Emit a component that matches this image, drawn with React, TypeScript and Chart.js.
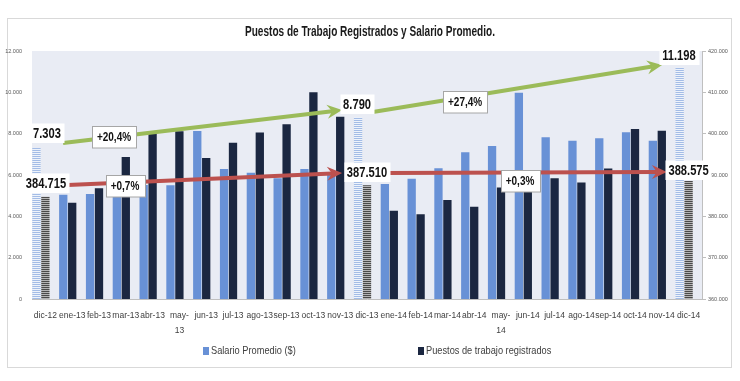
import React, { useEffect, useRef } from 'react';
import { Chart, registerables } from 'chart.js';

Chart.register(...registerables);

// ---------------- data ----------------
const TITLE = 'Puestos de Trabajo Registrados y Salario Promedio.';
const CATEGORIES: (string | string[])[] = [
  'dic-12', 'ene-13', 'feb-13', 'mar-13', 'abr-13', ['may-', '13'], 'jun-13', 'jul-13', 'ago-13', 'sep-13', 'oct-13', 'nov-13',
  'dic-13', 'ene-14', 'feb-14', 'mar-14', 'abr-14', ['may-', '14'], 'jun-14', 'jul-14', 'ago-14', 'sep-14', 'oct-14', 'nov-14',
  'dic-14',
];
const SALARIO_LABEL = 'Salario Promedio ($)';
const PUESTOS_LABEL = 'Puestos de trabajo registrados';
const SALARIO = [7303, 5050, 5080, 5250, 5520, 5500, 8130, 6290, 6110, 5840, 6290, 6000, 8790, 5565, 5820, 6325, 7100, 7400, 9980, 7825, 7660, 7776, 8067, 7660, 11198];
const PUESTOS = [384715, 383300, 386800, 394350, 400470, 400600, 394100, 397800, 400300, 402300, 410000, 404100, 387510, 381360, 380500, 383950, 382330, 387000, 386800, 389200, 388200, 391600, 401100, 400700, 388575];
const DECEMBER_INDEXES = [0, 12, 24];
const LEFT_AXIS = { min: 0, max: 12000, step: 2000 };
const RIGHT_AXIS = { min: 360000, max: 420000, step: 10000 };

// annotation texts
const VALUE_LABELS = ['7.303', '384.715', '8.790', '387.510', '11.198', '388.575'];
const CHANGE_LABELS = ['+20,4%', '+0,7%', '+27,4%', '+0,3%'];

// ---------------- placement (category index, left-axis value) ----------------
const VALUE_LABEL_POS: [number, number][] = [
  [0.06, 8030], [0.02, 5610], [11.63, 9435], [12.0, 6150], [23.64, 11800], [24.0, 6240],
];
const CHANGE_LABEL_POS: [number, number][] = [
  [2.56, 7840], [2.97, 5470], [15.66, 9530], [17.71, 5710],
];
const ARROWS: { kind: 'green' | 'red'; from: [number, number]; to: [number, number] }[] = [
  { kind: 'green', from: [0.66, 7548], to: [11.07, 9145] },
  { kind: 'green', from: [12.22, 9048], to: [23.01, 11323] },
  { kind: 'red', from: [0.84, 5516], to: [11.07, 6097] },
  { kind: 'red', from: [12.78, 6097], to: [23.19, 6145] },
];

// ---------------- styles ----------------
const FONT = "'Liberation Sans', Arial, sans-serif";
const VALUE_CONDENSE = 0.72;
const CHANGE_CONDENSE = 0.8;
const COLORS = {
  salario: '#6891D6',
  puestos: '#1B2741',
  plotBg: '#E9ECF4',
  frame: '#D9D9D9',
  green: '#9BBB59',
  red: '#BC514E',
  text: '#404040',
  axisText: '#595959',
};

const fmt = (v: number) => String(Math.round(v)).replace(/\B(?=(\d{3})+(?!\d))/g, '.');

function makeStripes(base: string, line: string): CanvasPattern | string {
  const c = document.createElement('canvas');
  c.width = 4;
  c.height = 2;
  const g = c.getContext('2d');
  if (!g) return base;
  g.fillStyle = base;
  g.fillRect(0, 0, 4, 2);
  g.fillStyle = line;
  g.fillRect(0, 1, 4, 1);
  return g.createPattern(c, 'repeat') || base;
}

function condensedText(ctx: CanvasRenderingContext2D, text: string, x: number, y: number, sx: number, align: CanvasTextAlign) {
  ctx.save();
  ctx.translate(x, y);
  ctx.scale(sx, 1);
  ctx.textAlign = align;
  ctx.fillText(text, 0, 0);
  ctx.restore();
}

function drawArrow(ctx: CanvasRenderingContext2D, x1: number, y1: number, x2: number, y2: number, color: string) {
  const ang = Math.atan2(y2 - y1, x2 - x1);
  const head = 13;
  const hw = 7;
  const cos = Math.cos(ang);
  const sin = Math.sin(ang);
  const bx = x2 - head * cos;
  const by = y2 - head * sin;
  ctx.strokeStyle = color;
  ctx.lineWidth = 4;
  ctx.lineCap = 'butt';
  ctx.beginPath();
  ctx.moveTo(x1, y1);
  ctx.lineTo(bx + 3 * cos, by + 3 * sin);
  ctx.stroke();
  ctx.fillStyle = color;
  ctx.beginPath();
  ctx.moveTo(x2, y2);
  ctx.lineTo(bx - 2 * cos + hw * sin, by - 2 * sin - hw * cos);
  ctx.lineTo(bx + 3 * cos, by + 3 * sin);
  ctx.lineTo(bx - 2 * cos - hw * sin, by - 2 * sin + hw * cos);
  ctx.closePath();
  ctx.fill();
}

function drawLabel(ctx: CanvasRenderingContext2D, text: string, x: number, y: number, size: number, bordered: boolean, sx: number) {
  ctx.font = `bold ${size}px ${FONT}`;
  const w = ctx.measureText(text).width * sx;
  const padX = bordered ? 5 : 3;
  const h = size + (bordered ? 9 : 4);
  const bx = Math.round(x - w / 2 - padX) + 0.5;
  const by = Math.round(y - h / 2) + 0.5;
  const bw = Math.round(w + padX * 2);
  ctx.fillStyle = '#FFFFFF';
  ctx.fillRect(bx, by, bw, h);
  if (bordered) {
    ctx.strokeStyle = '#A6A6A6';
    ctx.lineWidth = 1;
    ctx.strokeRect(bx, by, bw, h);
  }
  ctx.fillStyle = '#111111';
  ctx.textBaseline = 'middle';
  condensedText(ctx, text, x, y + 1, sx, 'center');
}

const decorPlugin = {
  id: 'decor',
  beforeDraw(chart: any) {
    const { ctx, chartArea: a, width, height } = chart;
    ctx.save();
    ctx.fillStyle = '#FFFFFF';
    ctx.fillRect(0, 0, width, height);
    ctx.strokeStyle = COLORS.frame;
    ctx.lineWidth = 1;
    ctx.strokeRect(7.5, 18.5, 724, 349);
    ctx.fillStyle = COLORS.plotBg;
    ctx.fillRect(a.left, a.top, a.right - a.left, a.bottom - a.top);
    ctx.fillStyle = '#1A1A1A';
    ctx.font = `bold 15px ${FONT}`;
    ctx.textBaseline = 'middle';
    const tw = ctx.measureText(TITLE).width;
    condensedText(ctx, TITLE, 370, 32, 250 / tw, 'center');
    ctx.restore();
  },
  afterDatasetsDraw(chart: any) {
    const { ctx } = chart;
    const xs = chart.scales.x;
    const ys = chart.scales.y;
    const step = xs.getPixelForValue(1) - xs.getPixelForValue(0);
    const px = (i: number) => xs.getPixelForValue(Math.floor(i)) + (i - Math.floor(i)) * step;
    ctx.save();
    ARROWS.forEach((ar) => {
      drawArrow(ctx, px(ar.from[0]), ys.getPixelForValue(ar.from[1]), px(ar.to[0]), ys.getPixelForValue(ar.to[1]), ar.kind === 'green' ? COLORS.green : COLORS.red);
    });
    VALUE_LABELS.forEach((t, k) => {
      const [i, v] = VALUE_LABEL_POS[k];
      drawLabel(ctx, t, px(i), ys.getPixelForValue(v), 15.5, false, VALUE_CONDENSE);
    });
    CHANGE_LABELS.forEach((t, k) => {
      const [i, v] = CHANGE_LABEL_POS[k];
      drawLabel(ctx, t, px(i), ys.getPixelForValue(v), 12.5, true, CHANGE_CONDENSE);
    });
    ctx.restore();
  },
  afterDraw(chart: any) {
    const { ctx } = chart;
    ctx.save();
    ctx.font = `11px ${FONT}`;
    ctx.textBaseline = 'middle';
    const items = [
      { label: SALARIO_LABEL, color: COLORS.salario, x: 203 },
      { label: PUESTOS_LABEL, color: COLORS.puestos, x: 418 },
    ];
    items.forEach((it) => {
      ctx.fillStyle = it.color;
      ctx.fillRect(it.x, 347, 6, 8);
      ctx.fillStyle = COLORS.text;
      condensedText(ctx, it.label, it.x + 8, 351, 0.84, 'left');
    });
    ctx.restore();
  },
};

export default function App() {
  const ref = useRef<HTMLCanvasElement | null>(null);
  useEffect(() => {
    if (!ref.current) return;
    const lightStripe = makeStripes('#A3BCE6', '#EEF3FB');
    const darkStripe = makeStripes('#B4B4B4', '#4A4A4A');
    const tickFont = { family: FONT, size: 5.5 };
    const chart = new Chart(ref.current, {
      type: 'bar',
      data: {
        labels: CATEGORIES as any,
        datasets: [
          {
            label: SALARIO_LABEL,
            data: SALARIO,
            yAxisID: 'y',
            backgroundColor: (c: any) => (DECEMBER_INDEXES.includes(c.dataIndex) ? lightStripe : COLORS.salario),
          },
          {
            label: PUESTOS_LABEL,
            data: PUESTOS,
            yAxisID: 'y1',
            backgroundColor: (c: any) => (DECEMBER_INDEXES.includes(c.dataIndex) ? darkStripe : COLORS.puestos),
          },
          {
            label: '',
            data: [],
            yAxisID: 'y',
            backgroundColor: 'rgba(0,0,0,0)',
          },
        ],
      },
      options: {
        animation: false,
        responsive: false,
        maintainAspectRatio: false,
        layout: { padding: { left: 0, right: 0, top: 51, bottom: 42 } },
        datasets: { bar: { categoryPercentage: 1.0, barPercentage: 0.93 } },
        plugins: {
          legend: { display: false },
          title: { display: false },
          tooltip: { enabled: false },
        },
        scales: {
          x: {
            grid: { display: false, drawTicks: false },
            border: { display: true, color: '#BFBFBF' },
            ticks: {
              font: { family: FONT, size: 8.5, lineHeight: 1.75 },
              color: COLORS.text,
              padding: 9,
              maxRotation: 0,
              minRotation: 0,
              autoSkip: false,
            },
            afterFit: (s: any) => { s.height = 40; },
          },
          y: {
            position: 'left',
            min: LEFT_AXIS.min,
            max: LEFT_AXIS.max,
            ticks: { stepSize: LEFT_AXIS.step, callback: (v: any) => fmt(Number(v)), font: tickFont, color: COLORS.axisText, padding: 10 },
            grid: { display: false, drawTicks: false },
            border: { display: false },
            afterFit: (s: any) => { s.width = 32; },
          },
          y1: {
            position: 'right',
            min: RIGHT_AXIS.min,
            max: RIGHT_AXIS.max,
            ticks: { stepSize: RIGHT_AXIS.step, callback: (v: any) => fmt(Number(v)), font: tickFont, color: COLORS.axisText, padding: 2 },
            grid: { display: true, drawOnChartArea: false, drawTicks: true, tickLength: 4, color: '#BFBFBF' },
            border: { display: true, color: '#BFBFBF' },
            afterFit: (s: any) => { s.width = 38; },
          },
        },
      },
      plugins: [decorPlugin],
    } as any);
    return () => chart.destroy();
  }, []);
  return (
    <div style={{ position: 'fixed', left: 0, top: 0, width: 740, height: 381, background: '#fff' }}>
      <canvas ref={ref} width={740} height={381} style={{ width: 740, height: 381, display: 'block' }} />
    </div>
  );
}
